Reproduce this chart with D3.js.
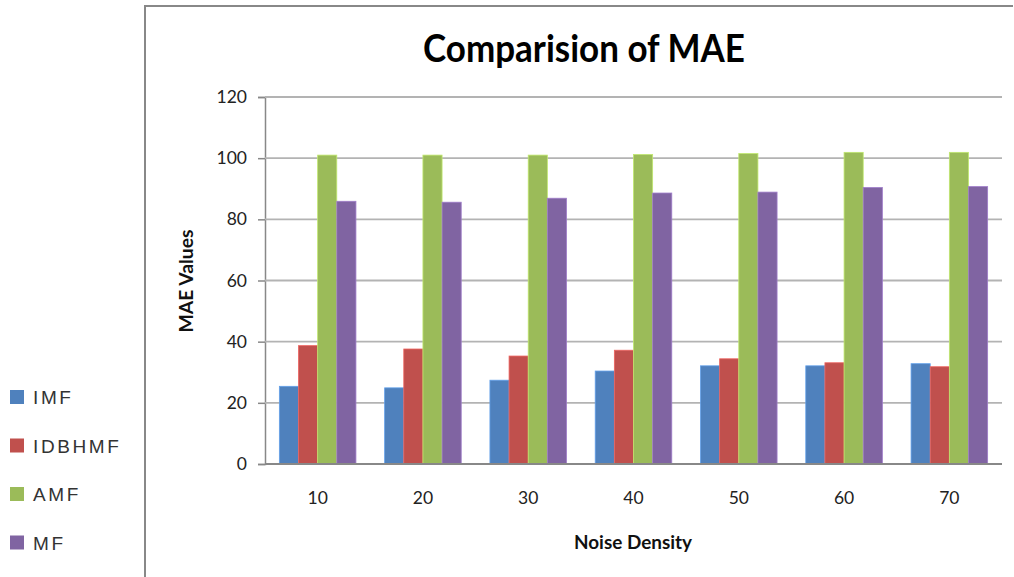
<!DOCTYPE html>
<html>
<head>
<meta charset="utf-8">
<script src="https://cdn.jsdelivr.net/npm/d3@7/dist/d3.min.js"></script>
<style>
  html, body { margin: 0; padding: 0; background: #fff; }
  svg { display: block; }
</style>
</head>
<body>
<svg id="chart" width="1014" height="577"></svg>
<script>
// Noise density levels (x categories)
const categories = ["10", "20", "30", "40", "50", "60", "70"];

// Filter names, in legend / bar order
const seriesNames = ["IMF", "IDBHMF", "AMF", "MF"];

// MAE values per filter at each noise density
const imf    = [25.4, 24.9, 27.4, 30.4, 32.1, 32.1, 32.8];
const idbhmf = [38.7, 37.6, 35.3, 37.2, 34.4, 33.1, 31.8];
const amf    = [101.0, 101.0, 101.0, 101.2, 101.5, 101.9, 101.9];
const mf     = [85.9, 85.6, 86.9, 88.6, 88.9, 90.4, 90.7];

const yTicks = [0, 20, 40, 60, 80, 100, 120];

const colors = ["#4F81BD", "#C0504D", "#9BBB59", "#8064A2"];
const seriesValues = [imf, idbhmf, amf, mf];

const svg = d3.select("#chart");

// outer frame (top and left edges visible)
svg.append("line").attr("x1", 145).attr("y1", 6).attr("x2", 1013).attr("y2", 6)
  .attr("stroke", "#888").attr("stroke-width", 2);
svg.append("line").attr("x1", 145).attr("y1", 5).attr("x2", 145).attr("y2", 577)
  .attr("stroke", "#888").attr("stroke-width", 2);

const plot = { left: 265, right: 1002, top: 97, bottom: 464 };

const x = d3.scaleBand()
  .domain(categories)
  .range([plot.left, plot.right])
  .paddingInner(0.2727)
  .paddingOuter(0.1364);

const xInner = d3.scaleBand()
  .domain(seriesNames)
  .range([0, x.bandwidth()])
  .padding(0);

const y = d3.scaleLinear().domain([0, 120]).range([plot.bottom, plot.top]);

// horizontal gridlines + y axis
const yAxis = d3.axisLeft(y).tickValues(yTicks).tickSize(7).tickPadding(11).tickFormat(d3.format("d"));
const yg = svg.append("g").attr("transform", `translate(${plot.left},0)`).call(yAxis);
yg.select(".domain").attr("stroke", "#888").attr("stroke-width", 1.5);
yg.selectAll(".tick line").attr("stroke", "#888").attr("stroke-width", 1.5);
yg.selectAll(".tick text")
  .attr("fill", "#222")
  .style("font-family", "Lato, 'Open Sans', sans-serif")
  .style("font-size", "17.5px");

svg.append("g").selectAll("line.grid")
  .data(yTicks.filter(d => d > 0))
  .join("line")
  .attr("x1", plot.left).attr("x2", plot.right)
  .attr("y1", d => y(d)).attr("y2", d => y(d))
  .attr("stroke", "#b3b3b3").attr("stroke-width", 1.8);

// bars
const rows = categories.map((c, i) => ({
  cat: c,
  vals: seriesNames.map((s, k) => ({ key: s, value: seriesValues[k][i], color: colors[k] }))
}));

svg.append("g").selectAll("g")
  .data(rows)
  .join("g")
  .attr("transform", d => `translate(${x(d.cat)},0)`)
  .selectAll("rect")
  .data(d => d.vals)
  .join("rect")
  .attr("x", d => xInner(d.key))
  .attr("y", d => y(d.value))
  .attr("width", xInner.bandwidth())
  .attr("height", d => y(0) - y(d.value))
  .attr("fill", d => d.color)
  .attr("stroke", d => d3.color(d.color).brighter(0.6))
  .attr("stroke-width", 0.8);

// x axis line
svg.append("line")
  .attr("x1", plot.left).attr("x2", plot.right)
  .attr("y1", plot.bottom).attr("y2", plot.bottom)
  .attr("stroke", "#888").attr("stroke-width", 1.8);

// x tick labels
const xAxis = d3.axisBottom(x).tickSize(0).tickPadding(28);
const xg = svg.append("g").attr("transform", `translate(0,${plot.bottom})`).call(xAxis);
xg.select(".domain").remove();
xg.selectAll(".tick text")
  .attr("fill", "#222")
  .style("font-family", "Lato, 'Open Sans', sans-serif")
  .style("font-size", "17.5px");

// title
svg.append("text")
  .attr("x", 584).attr("y", 62)
  .attr("text-anchor", "middle")
  .attr("textLength", 322)
  .attr("lengthAdjust", "spacingAndGlyphs")
  .style("font-family", "Lato, 'Open Sans', sans-serif")
  .style("font-weight", "bold")
  .style("font-size", "38px")
  .attr("fill", "#000")
  .text("Comparision of MAE");

// axis titles
svg.append("text")
  .attr("x", 633).attr("y", 549)
  .attr("text-anchor", "middle")
  .attr("textLength", 118)
  .attr("lengthAdjust", "spacingAndGlyphs")
  .style("font-family", "Lato, 'Open Sans', sans-serif")
  .style("font-weight", "bold")
  .style("font-size", "19px")
  .attr("fill", "#111")
  .text("Noise Density");

svg.append("text")
  .attr("transform", "translate(193,281) rotate(-90)")
  .attr("text-anchor", "middle")
  .attr("textLength", 103)
  .attr("lengthAdjust", "spacingAndGlyphs")
  .style("font-family", "Lato, 'Open Sans', sans-serif")
  .style("font-weight", "bold")
  .style("font-size", "19px")
  .attr("fill", "#111")
  .text("MAE Values");

// legend
const legend = svg.append("g").selectAll("g")
  .data(seriesNames)
  .join("g")
  .attr("transform", (d, i) => `translate(10,${397 + i * 48.5})`);
legend.append("rect")
  .attr("x", 0).attr("y", -7)
  .attr("width", 14).attr("height", 14)
  .attr("fill", (d, i) => colors[i]);
legend.append("text")
  .attr("x", 23).attr("y", 7)
  .style("font-family", "'Liberation Sans', Arial, sans-serif")
  .style("font-size", "19px")
  .style("letter-spacing", "2.6px")
  .attr("fill", "#333")
  .text(d => d);
</script>
</body>
</html>
